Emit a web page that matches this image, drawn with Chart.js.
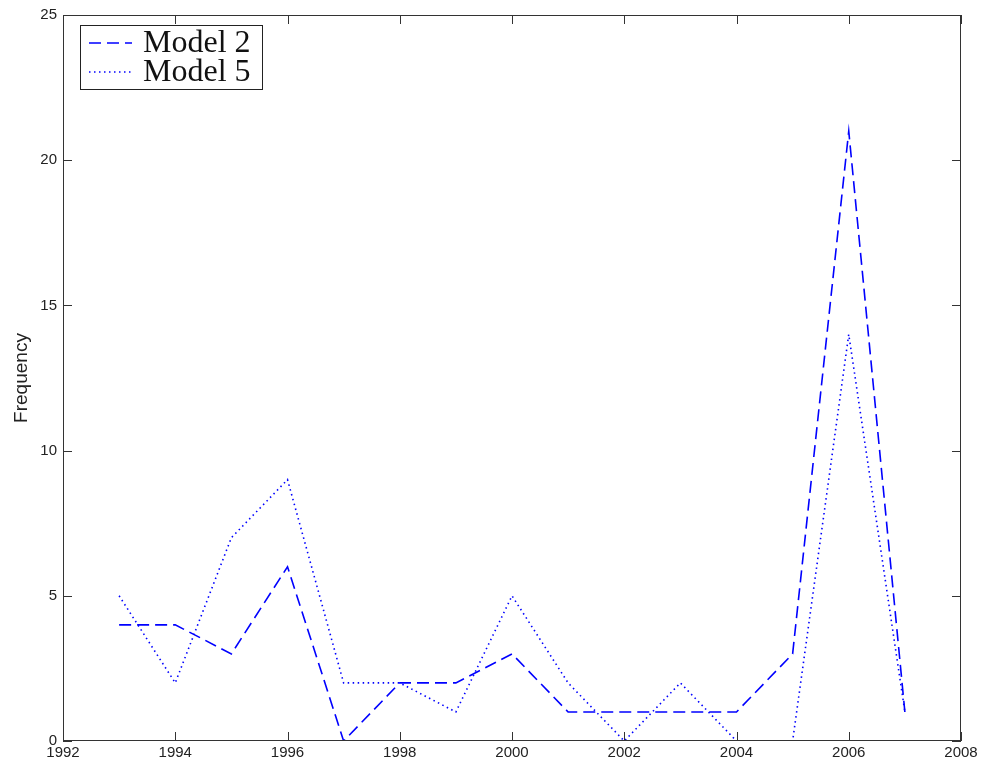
<!DOCTYPE html>
<html>
<head>
<meta charset="utf-8">
<script src="https://cdn.jsdelivr.net/npm/chart.js@4.4.1/dist/chart.umd.min.js"></script>
<style>
html,body{margin:0;padding:0;background:#fff;}
#wrap{width:981px;height:765px;position:relative;}
</style>
</head>
<body>
<div id="wrap"><canvas id="c" width="981" height="765"></canvas></div>
<script>
const years = [1993,1994,1995,1996,1997,1998,1999,2000,2001,2002,2003,2004,2005,2006,2007];
const model2 = [4,4,3,6,0,2,2,3,1,1,1,1,3,21,1];
const model5 = [5,2,7,9,2,2,1,5,2,0,2,0,0,14,1];
const seriesNames = ['Model 2','Model 5'];
const xTicks = [1992,1994,1996,1998,2000,2002,2004,2006,2008];
const yTicks = [0,5,10,15,20,25];
const yTitle = 'Frequency';

const toPts = arr => arr.map((v,i)=>({x:years[i], y:v}));

const framePlugin = {
  id:'frame',
  afterDraw(chart){
    const {ctx, chartArea:a, scales:{x,y}} = chart;
    ctx.save();
    ctx.strokeStyle='#333';
    ctx.lineWidth=1;
    ctx.strokeRect(a.left+0.5, a.top+0.5, a.right-a.left-1, a.bottom-a.top-1);
    const L=9;
    ctx.beginPath();
    xTicks.forEach(t=>{
      const px=Math.round(x.getPixelForValue(t))+0.5;
      ctx.moveTo(px,a.bottom); ctx.lineTo(px,a.bottom-L);
      ctx.moveTo(px,a.top); ctx.lineTo(px,a.top+L);
    });
    yTicks.forEach(t=>{
      const py=Math.round(y.getPixelForValue(t))+0.5;
      ctx.moveTo(a.left,py); ctx.lineTo(a.left+L,py);
      ctx.moveTo(a.right,py); ctx.lineTo(a.right-L,py);
    });
    ctx.stroke();
    // y title
    ctx.save();
    ctx.translate(22, (a.top+a.bottom)/2);
    ctx.rotate(-Math.PI/2);
    ctx.fillStyle='#222';
    ctx.font='19px "Liberation Sans", Arial, sans-serif';
    ctx.textAlign='center';
    ctx.textBaseline='middle';
    ctx.fillText(yTitle,0,0);
    ctx.restore();
    // legend
    const bx=80, by=25, bw=182, bh=64;
    ctx.fillStyle='#fff';
    ctx.fillRect(bx,by,bw,bh);
    ctx.strokeStyle='#222';
    ctx.strokeRect(bx+0.5,by+0.5,bw,bh);
    const ds = chart.data.datasets;
    const rows=[{ly:by+18, ty:by+27},{ly:by+47, ty:by+56}];
    ds.forEach((d,i)=>{
      ctx.save();
      ctx.strokeStyle=d.borderColor;
      ctx.lineWidth=d.borderWidth;
      ctx.setLineDash(d.borderDash);
      ctx.beginPath();
      ctx.moveTo(bx+9, rows[i].ly); ctx.lineTo(bx+52, rows[i].ly);
      ctx.stroke();
      ctx.restore();
      ctx.fillStyle='#111';
      ctx.font='32px "Liberation Serif", "Times New Roman", serif';
      ctx.textAlign='left';
      ctx.textBaseline='alphabetic';
      ctx.fillText(d.label, bx+63, rows[i].ty);
    });
    ctx.restore();
  }
};

new Chart(document.getElementById('c'), {
  type:'line',
  data:{
    datasets:[
      {label:seriesNames[0], data:toPts(model2), borderColor:'#0000ff', borderWidth:1.6, borderDash:[12,6], pointRadius:0, fill:false, tension:0},
      {label:seriesNames[1], data:toPts(model5), borderColor:'#0000ff', borderWidth:1.6, borderDash:[1.5,3.5], pointRadius:0, fill:false, tension:0}
    ]
  },
  options:{
    responsive:false,
    animation:false,
    events:[],
    layout:{padding:{top:14,right:20,left:0,bottom:0}},
    plugins:{legend:{display:false}, tooltip:{enabled:false}},
    scales:{
      x:{
        type:'linear', min:1992, max:2008,
        afterBuildTicks:s=>{s.ticks=xTicks.map(v=>({value:v}));},
        afterFit:s=>{s.height=24;},
        grid:{display:false, drawTicks:false},
        border:{display:false},
        ticks:{padding:3, color:'#222', font:{family:'"Liberation Sans", Arial, sans-serif', size:15}, maxRotation:0, autoSkip:false, callback:v=>String(v)}
      },
      y:{
        type:'linear', min:0, max:25,
        afterBuildTicks:s=>{s.ticks=yTicks.map(v=>({value:v}));},
        afterFit:s=>{s.width=63;},
        grid:{display:false, drawTicks:false},
        border:{display:false},
        ticks:{padding:6, color:'#222', font:{family:'"Liberation Sans", Arial, sans-serif', size:15}, autoSkip:false, callback:v=>String(v)}
      }
    }
  },
  plugins:[framePlugin]
});
</script>
</body>
</html>
